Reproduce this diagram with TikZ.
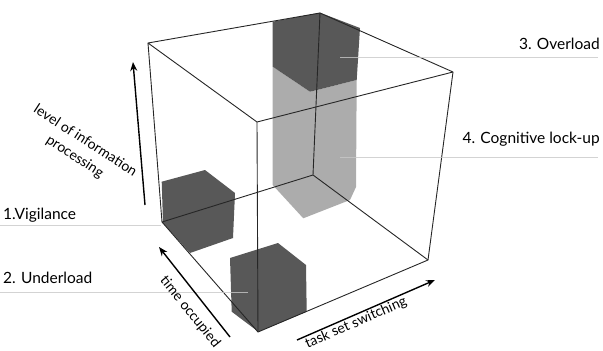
\documentclass[tikz,border=0pt]{standalone}
\usepackage{fontspec}
\setmainfont{Lato}
\usetikzlibrary{arrows.meta}
\definecolor{boxdark}{RGB}{88,88,88}
\definecolor{boxlight}{RGB}{172,172,172}
\definecolor{leader}{RGB}{200,200,200}
\tikzset{
  edge/.style={draw=black!85, line width=0.9pt, line join=round},
  axisarrow/.style={draw=black, line width=1.4pt, -{Stealth[length=9pt,width=7pt]}},
  leaderline/.style={draw=leader, line width=0.7pt, opacity=0.8},
  lbl/.style={font=\fontsize{15.5}{18}\selectfont, inner sep=0pt},
  axislbl/.style={font=\fontsize{14}{19}\selectfont, inner sep=0pt, align=center}
}
\begin{document}
\begin{tikzpicture}[x=1pt,y=-1pt]
\useasboundingbox (0,0) rectangle (603,351);
% cube vertices
\coordinate (BTL) at (148,43);
\coordinate (BTR) at (320,13);
\coordinate (FTR) at (453,72);
\coordinate (FTL) at (257,122);
\coordinate (BBL) at (162,222);
\coordinate (BBR) at (313,175);
\coordinate (FBR) at (428,260);
\coordinate (FBL) at (258,332);
% light column (cognitive lock-up)
\fill[boxlight] (272.7,66.7) -- (272.7,185) -- (303.3,218.3) -- (350,200) -- (356,187) -- (356.7,80) -- (310,91.7) -- cycle;
% overload box
\fill[boxdark] (272.7,21.7) -- (320,12.7) -- (360,28) -- (356.7,80) -- (310,91.7) -- (272.7,66.7) -- cycle;
% vigilance box
\fill[boxdark] (161.7,181.7) -- (205,170) -- (235,193) -- (233,238) -- (190,253) -- (163,223) -- cycle;
% underload box
\fill[boxdark] (230,258) -- (278,243) -- (306,265) -- (306.7,311.7) -- (258.3,331.7) -- (231.7,311.7) -- cycle;
% cube edges
\draw[edge] (BTL) -- (BTR) -- (FTR) -- (FTL) -- cycle;
\draw[edge] (BBL) -- (BBR) -- (FBR) -- (FBL) -- cycle;
\draw[edge] (BTL) -- (BBL);
\draw[edge] (BTR) -- (BBR);
\draw[edge] (FTR) -- (FBR);
\draw[edge] (FTL) -- (FBL);
% leader lines
\coordinate (L1a) at (0,225); \coordinate (L1b) at (161,225);
\coordinate (L2a) at (0,292); \coordinate (L2b) at (248,292);
\coordinate (L3a) at (340,57); \coordinate (L3b) at (598,57);
\coordinate (L4a) at (340,157); \coordinate (L4b) at (598,157);
\draw[leaderline] (L1a) -- (L1b);
\draw[leaderline] (L2a) -- (L2b);
\draw[leaderline] (L3a) -- (L3b);
\draw[leaderline] (L4a) -- (L4b);
% labels
\node[lbl, anchor=base west] (vig) at (3,219) {1.Vigilance};
\node[lbl, anchor=base west] (under) at (3,283) {2. Underload};
\node[lbl, anchor=base east] (over) at (600,49) {3. Overload};
\node[lbl, anchor=base east] (cog) at (600,143) {4. Cognitive lock-up};
% axes
\coordinate (A1s) at (145,205); \coordinate (A1e) at (133,62);
\coordinate (A2s) at (230,337); \coordinate (A2e) at (159,247);
\coordinate (A3s) at (297,340); \coordinate (A3e) at (435,280);
\draw[axisarrow] (A1s) -- (A1e);
\draw[axisarrow] (A2s) -- (A2e);
\draw[axisarrow] (A3s) -- (A3e);
\node[axislbl, rotate=-33] (lip) at (80,149) {level of information\\processing};
\node[axislbl, rotate=-51] (tocc) at (190,312) {time occupied};
\node[axislbl, rotate=23.5] (tss) at (356,323) {task set switching};
\end{tikzpicture}
\end{document}
